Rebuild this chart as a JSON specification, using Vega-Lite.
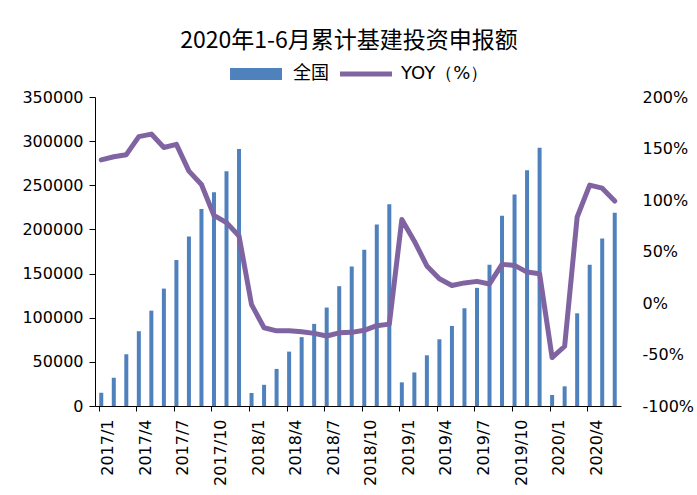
{
  "$schema": "https://vega.github.io/schema/vega-lite/v6.json",
  "width": 526,
  "height": 309,
  "autosize": {"type": "none"},
  "padding": {"left": 95, "top": 97, "right": 76, "bottom": 89},
  "background": "white",
  "config": {
    "view": {"stroke": null},
    "axis": {"labelFont": "DejaVu Sans", "labelFontSize": 16, "labelColor": "#000", "domainColor": "#000", "tickColor": "#000", "grid": false, "title": null}
  },
  "title": {
    "text": "2020年1-6月累计基建投资申报额",
    "font": "Noto Sans CJK SC",
    "fontSize": 23,
    "fontWeight": "normal",
    "color": "#000",
    "anchor": "middle",
    "dx": -9,
    "offset": 12
  },
  "data": {
    "values": [
      {"m": "2017/1", "v": 15000, "yoy": 139},
      {"m": "2017/2", "v": 32000, "yoy": 142},
      {"m": "2017/3", "v": 58600, "yoy": 144},
      {"m": "2017/4", "v": 84700, "yoy": 161.5},
      {"m": "2017/5", "v": 108000, "yoy": 164},
      {"m": "2017/6", "v": 133000, "yoy": 151},
      {"m": "2017/7", "v": 165500, "yoy": 154},
      {"m": "2017/8", "v": 192000, "yoy": 128},
      {"m": "2017/9", "v": 223000, "yoy": 115},
      {"m": "2017/10", "v": 242000, "yoy": 85},
      {"m": "2017/11", "v": 266000, "yoy": 78},
      {"m": "2017/12", "v": 291000, "yoy": 65},
      {"m": "2018/1", "v": 14700, "yoy": -1.6},
      {"m": "2018/2", "v": 24000, "yoy": -24},
      {"m": "2018/3", "v": 42000, "yoy": -27},
      {"m": "2018/4", "v": 61600, "yoy": -27},
      {"m": "2018/5", "v": 78000, "yoy": -28},
      {"m": "2018/6", "v": 93000, "yoy": -29.5},
      {"m": "2018/7", "v": 111500, "yoy": -32},
      {"m": "2018/8", "v": 135700, "yoy": -29},
      {"m": "2018/9", "v": 158000, "yoy": -28.5},
      {"m": "2018/10", "v": 177000, "yoy": -26.5},
      {"m": "2018/11", "v": 205600, "yoy": -22},
      {"m": "2018/12", "v": 228600, "yoy": -20.5},
      {"m": "2019/1", "v": 26800, "yoy": 81},
      {"m": "2019/2", "v": 38000, "yoy": 60},
      {"m": "2019/3", "v": 57400, "yoy": 36},
      {"m": "2019/4", "v": 75600, "yoy": 23.5},
      {"m": "2019/5", "v": 90700, "yoy": 17},
      {"m": "2019/6", "v": 110700, "yoy": 19.5},
      {"m": "2019/7", "v": 133800, "yoy": 21},
      {"m": "2019/8", "v": 160000, "yoy": 18.5},
      {"m": "2019/9", "v": 215400, "yoy": 37.5},
      {"m": "2019/10", "v": 239600, "yoy": 36.5},
      {"m": "2019/11", "v": 267000, "yoy": 30},
      {"m": "2019/12", "v": 292500, "yoy": 28.5},
      {"m": "2020/1", "v": 12500, "yoy": -53},
      {"m": "2020/2", "v": 22300, "yoy": -42},
      {"m": "2020/3", "v": 105000, "yoy": 83.5},
      {"m": "2020/4", "v": 160000, "yoy": 114.5},
      {"m": "2020/5", "v": 189700, "yoy": 111.5},
      {"m": "2020/6", "v": 219000, "yoy": 99}
    ]
  },
  "encoding": {
    "x": {
      "field": "m",
      "type": "ordinal",
      "sort": null,
      "scale": {"paddingInner": 0.68, "paddingOuter": 0.34},
      "axis": {
        "values": ["2017/1","2017/4","2017/7","2017/10","2018/1","2018/4","2018/7","2018/10","2019/1","2019/4","2019/7","2019/10","2020/1","2020/4"],
        "bandPosition": 0,
        "labelOffset": 7,
        "labelAngle": -90,
        "labelPadding": 8,
        "tickSize": 5,
        "labelFontSize": 16
      }
    }
  },
  "layer": [
    {
      "mark": {"type": "bar", "color": "#4F81BD"},
      "encoding": {
        "y": {
          "field": "v",
          "type": "quantitative",
          "scale": {"domain": [0, 350000], "nice": false},
          "axis": {"values": [0,50000,100000,150000,200000,250000,300000,350000], "format": "d", "tickSize": 6, "labelPadding": 6, "labelFontSize": 16}
        },
        "color": {
          "datum": "全国",
          "scale": {"range": ["#4F81BD"]},
          "legend": {
            "orient": "none",
            "legendX": 152,
            "legendY": -32,
            "title": null,
            "padding": 0,
            "symbolType": "M-4.33,-1H4.33V1H-4.33Z",
            "symbolSize": 144,
            "symbolStrokeWidth": 0,
            "labelOffset": 28,
            "labelFont": "Noto Sans CJK SC",
            "labelFontSize": 18,
            "labelColor": "#000"
          }
        }
      }
    },
    {
      "mark": {"type": "line", "strokeWidth": 5, "strokeCap": "round", "strokeJoin": "round"},
      "encoding": {
        "y": {
          "field": "yoy",
          "type": "quantitative",
          "scale": {"domain": [-100, 200], "nice": false},
          "axis": {"orient": "right", "values": [-100,-50,0,50,100,150,200], "labelExpr": "datum.value + '%'", "ticks": false, "domain": false, "labelPadding": 21, "labelFontSize": 16}
        },
        "stroke": {
          "datum": "YOY（%）",
          "scale": {"range": ["#8064A2"]},
          "legend": {
            "orient": "none",
            "legendX": 262,
            "legendY": -32,
            "title": null,
            "padding": 0,
            "symbolType": "M-4.33,0H4.33",
            "symbolSize": 144,
            "symbolStrokeWidth": 5,
            "labelOffset": 26,
            "labelFont": "DejaVu Sans",
            "labelFontSize": 18,
            "labelColor": "#000"
          }
        }
      }
    }
  ],
  "resolve": {"scale": {"y": "independent"}}
}
